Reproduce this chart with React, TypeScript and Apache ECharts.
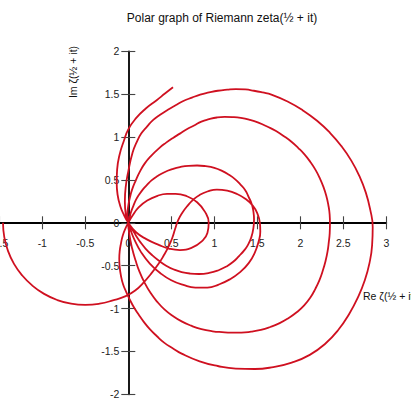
import React, { useEffect, useRef } from "react";
import * as echarts from "echarts";

// zeta(1/2 + it), t from 0 to ~34 as [Re, Im]
// t = 0 .. 14.13 (first zero)
const seg0: number[][] = [
  [-1.457, 0], [-1.442, -0.166], [-1.399, -0.327], [-1.329, -0.479], [-1.233, -0.615],
  [-1.115, -0.733], [-0.979, -0.829], [-0.827, -0.9], [-0.666, -0.943], [-0.5, -0.957],
  [-0.334, -0.943], [-0.18, -0.905], [-0.03, -0.855], [0.08, -0.79], [0.174, -0.7],
  [0.26, -0.6], [0.35, -0.48], [0.41, -0.385], [0.465, -0.284], [0.51, -0.18],
  [0.545, -0.07], [0.58, 0.03], [0.63, 0.12], [0.69, 0.2], [0.756, 0.27],
  [0.83, 0.325], [0.92, 0.365], [1.03, 0.388], [1.15, 0.375], [1.26, 0.338],
  [1.36, 0.28], [1.447, 0.2], [1.5, 0.11], [1.53, 0.0], [1.535, -0.1],
  [1.515, -0.22], [1.47, -0.35], [1.4, -0.47], [1.3, -0.575], [1.18, -0.66],
  [1.05, -0.72], [0.92, -0.755], [0.78, -0.755], [0.64, -0.725], [0.5, -0.67],
  [0.37, -0.585], [0.25, -0.475], [0.15, -0.345], [0.075, -0.205], [0.025, -0.08],
  [0, 0],
];
// t = 14.13 .. 21.02
const loop1: number[][] = [
  [0, 0], [-0.01, 0.1], [0.0, 0.2], [0.02, 0.3], [0.045, 0.39], [0.085, 0.49],
  [0.136, 0.6], [0.19, 0.69], [0.26, 0.775], [0.369, 0.88], [0.44, 0.935],
  [0.52, 0.99], [0.6, 1.04], [0.68, 1.09], [0.765, 1.135], [0.85, 1.18],
  [0.94, 1.208], [1.03, 1.228], [1.12, 1.235], [1.21, 1.233], [1.308, 1.224],
  [1.415, 1.2], [1.519, 1.165], [1.62, 1.12], [1.718, 1.07], [1.81, 1.01],
  [1.897, 0.945], [1.977, 0.872], [2.051, 0.795], [2.117, 0.71], [2.177, 0.617],
  [2.227, 0.52], [2.269, 0.419], [2.302, 0.315], [2.326, 0.208], [2.341, 0.1],
  [2.345, -0.01], [2.342, -0.12], [2.331, -0.229], [2.316, -0.34], [2.293, -0.448],
  [2.262, -0.557], [2.224, -0.665], [2.175, -0.77], [2.117, -0.871], [2.045, -0.963],
  [1.958, -1.044], [1.862, -1.112], [1.76, -1.17], [1.652, -1.215], [1.541, -1.25],
  [1.428, -1.27], [1.314, -1.28], [1.2, -1.28], [1.09, -1.275], [0.98, -1.265],
  [0.85, -1.24], [0.73, -1.2], [0.62, -1.15], [0.515, -1.085], [0.42, -1.01],
  [0.335, -0.92], [0.26, -0.82], [0.19, -0.7], [0.13, -0.57], [0.085, -0.44],
  [0.045, -0.3], [0.015, -0.15], [0, 0],
];
// t = 21.02 .. 25.01
const loop2: number[][] = [
  [0, 0], [0.015, 0.06], [0.03, 0.12], [0.06, 0.2], [0.09, 0.27], [0.13, 0.335],
  [0.17, 0.39], [0.22, 0.445], [0.27, 0.495], [0.34, 0.545], [0.42, 0.59],
  [0.51, 0.625], [0.6, 0.65], [0.7, 0.665], [0.8, 0.668], [0.9, 0.66], [1.0, 0.64],
  [1.09, 0.605], [1.17, 0.56], [1.24, 0.51], [1.3, 0.45], [1.36, 0.38], [1.4, 0.3],
  [1.435, 0.22], [1.455, 0.13], [1.462, 0.04], [1.455, -0.06], [1.43, -0.17],
  [1.39, -0.26], [1.345, -0.325], [1.29, -0.385], [1.22, -0.455], [1.14, -0.51],
  [1.05, -0.553], [0.94, -0.585], [0.82, -0.597], [0.72, -0.592], [0.62, -0.575],
  [0.53, -0.545], [0.44, -0.5], [0.36, -0.445], [0.28, -0.38], [0.2, -0.3],
  [0.14, -0.225], [0.09, -0.15], [0.045, -0.075], [0, 0],
];
// t = 25.01 .. 30.42
const loop3: number[][] = [
  [0, 0], [-0.03, 0.1], [-0.04, 0.25], [-0.03, 0.42], [0.0, 0.6], [0.05, 0.82],
  [0.095, 0.935], [0.15, 1.04], [0.22, 1.125], [0.29, 1.2], [0.37, 1.26],
  [0.46, 1.318], [0.55, 1.37], [0.64, 1.42], [0.74, 1.46], [0.836, 1.495],
  [0.94, 1.52], [1.04, 1.54], [1.15, 1.553], [1.25, 1.56], [1.36, 1.555],
  [1.46, 1.54], [1.56, 1.52], [1.664, 1.495], [1.852, 1.414], [2.03, 1.311],
  [2.195, 1.19], [2.345, 1.05], [2.478, 0.894], [2.593, 0.725], [2.688, 0.543],
  [2.762, 0.352], [2.813, 0.153], [2.842, -0.05], [2.835, -0.26], [2.805, -0.467],
  [2.75, -0.67], [2.67, -0.87], [2.57, -1.06], [2.445, -1.245], [2.29, -1.41],
  [2.11, -1.54], [1.9, -1.63], [1.687, -1.682], [1.47, -1.705], [1.25, -1.7],
  [1.04, -1.67], [0.83, -1.615], [0.62, -1.525], [0.52, -1.465], [0.42, -1.4],
  [0.33, -1.32], [0.25, -1.24], [0.18, -1.155], [0.12, -1.07], [0.065, -0.985],
  [0.02, -0.9], [-0.025, -0.805], [-0.06, -0.72], [-0.085, -0.62], [-0.1, -0.52],
  [-0.105, -0.42], [-0.1, -0.33], [-0.085, -0.24], [-0.065, -0.15], [-0.035, -0.07],
  [0, 0],
];
// t = 30.42 .. 32.94
const loop4: number[][] = [
  [0, 0], [0.05, 0.085], [0.12, 0.18], [0.22, 0.26], [0.34, 0.315], [0.45, 0.337],
  [0.55, 0.338], [0.68, 0.31], [0.8, 0.24], [0.89, 0.13], [0.935, 0], [0.92, -0.12],
  [0.85, -0.22], [0.74, -0.29], [0.6, -0.318], [0.47, -0.3], [0.36, -0.26],
  [0.21, -0.19], [0.09, -0.11], [0, 0],
];
// t = 32.94 .. 34
const tail: number[][] = [
  [0, 0], [-0.05, 0.09], [-0.095, 0.2], [-0.125, 0.33], [-0.135, 0.47], [-0.13, 0.62],
  [-0.1, 0.8], [-0.05, 0.96], [0.0, 1.09], [0.09, 1.22], [0.2, 1.33], [0.33, 1.43],
  [0.43, 1.51], [0.52, 1.58],
];

const xTicks = { min: -1.5, max: 3, step: 0.5 };
const yTicks = { min: -2, max: 2, step: 0.5 };

const titleText = "Polar graph of Riemann zeta(½ + it)";
const xName = "Re ζ(½ + it)";
const yName = "Im ζ(½ + it)";

const FONT = "'Liberation Sans', Arial, sans-serif";

export default function App() {
  const ref = useRef<HTMLDivElement>(null);
  useEffect(() => {
    if (!ref.current) return;
    const chart = echarts.init(ref.current, undefined, { renderer: "svg" });
    const data = [
      ...seg0,
      ...loop1.slice(1),
      ...loop2.slice(1),
      ...loop3.slice(1),
      ...loop4.slice(1),
      ...tail.slice(1),
    ];
    const fmt = (v: number) => String(v);
    const tickStyle = { color: "#444", width: 1.1 };
    const labelStyle = { fontSize: 10.5, color: "#222", fontFamily: FONT, formatter: fmt };
    const gLeft = -0.7;
    const gTop = 51.3;
    const gW = 387;
    const gH = 343;
    const zeroY = gTop + gH / 2; // y = 0 lies mid-height (range -2..2)
    const zeroX = gLeft + (gW * 1.5) / 4.5; // x = 0
    chart.setOption({
      animation: false,
      grid: [
        { left: gLeft, top: gTop, width: gW, height: gH, containLabel: false, outerBoundsMode: "none" },
        { left: gLeft, top: gTop, width: gW, height: zeroY - gTop, containLabel: false, outerBoundsMode: "none" },
        { left: zeroX, top: gTop, width: gW - (zeroX - gLeft), height: gH, containLabel: false, outerBoundsMode: "none" },
      ],
      graphic: [
        {
          type: "text",
          x: 222,
          y: 18,
          style: {
            text: titleText,
            fontFamily: FONT,
            fontSize: 12,
            fill: "#111",
            textAlign: "center",
            textVerticalAlign: "middle",
          },
        },
        {
          type: "text",
          x: 73,
          y: 72,
          rotation: Math.PI / 2,
          style: {
            text: yName,
            fontFamily: FONT,
            fontSize: 10.5,
            fill: "#111",
            textAlign: "center",
            textVerticalAlign: "middle",
          },
        },
        {
          type: "text",
          x: 363,
          y: 296,
          style: {
            text: xName,
            fontFamily: FONT,
            fontSize: 10.5,
            fill: "#111",
            textAlign: "left",
            textVerticalAlign: "middle",
          },
        },
      ],
      xAxis: [
        {
          type: "value",
          gridIndex: 0,
          position: "bottom",
          min: xTicks.min,
          max: xTicks.max,
          interval: xTicks.step,
          axisLine: { onZero: true, onZeroAxisIndex: 0, lineStyle: { color: "#000", width: 1.8 } },
          axisTick: { show: true, inside: false, length: 6.5, lineStyle: tickStyle },
          axisLabel: { show: false },
          splitLine: { show: false },
        },
        {
          type: "value",
          gridIndex: 0,
          position: "top",
          min: xTicks.min,
          max: xTicks.max,
          interval: xTicks.step,
          axisLine: { show: true, onZero: true, onZeroAxisIndex: 0, lineStyle: { opacity: 0 } },
          axisTick: { show: true, inside: false, length: 6.5, lineStyle: tickStyle },
          axisLabel: { show: false },
          splitLine: { show: false },
        },
        {
          type: "value",
          gridIndex: 1,
          position: "bottom",
          min: xTicks.min,
          max: xTicks.max,
          interval: xTicks.step,
          axisLine: { show: false, onZero: false },
          axisTick: { show: false },
          axisLabel: { margin: 15, ...labelStyle },
          splitLine: { show: false },
        },
        { type: "value", gridIndex: 2, show: false, min: 0, max: 1 },
      ],
      yAxis: [
        {
          type: "value",
          gridIndex: 0,
          position: "left",
          min: yTicks.min,
          max: yTicks.max,
          interval: yTicks.step,
          axisLine: { onZero: true, onZeroAxisIndex: 0, lineStyle: { color: "#000", width: 1.8 } },
          axisTick: { show: true, inside: false, length: 7, lineStyle: tickStyle },
          axisLabel: { show: false },
          splitLine: { show: false },
        },
        {
          type: "value",
          gridIndex: 0,
          position: "right",
          min: yTicks.min,
          max: yTicks.max,
          interval: yTicks.step,
          axisLine: { show: true, onZero: true, onZeroAxisIndex: 0, lineStyle: { opacity: 0 } },
          axisTick: { show: true, inside: false, length: 7, lineStyle: tickStyle },
          axisLabel: { show: false },
          splitLine: { show: false },
        },
        { type: "value", gridIndex: 1, show: false, min: 0, max: 1 },
        {
          type: "value",
          gridIndex: 2,
          position: "left",
          min: yTicks.min,
          max: yTicks.max,
          interval: yTicks.step,
          axisLine: { show: false, onZero: false },
          axisTick: { show: false },
          axisLabel: { margin: 9, ...labelStyle },
          splitLine: { show: false },
        },
      ],
      series: [
        {
          type: "line",
          xAxisIndex: 0,
          yAxisIndex: 0,
          data,
          showSymbol: false,
          smooth: 0.5,
          lineStyle: { color: "#cf1020", width: 1.8 },
          clip: false,
        },
      ],
    });
    return () => chart.dispose();
  }, []);
  return (
    <div
      ref={ref}
      style={{ position: "fixed", left: 0, top: 0, width: 411, height: 411, background: "#fff" }}
    />
  );
}
